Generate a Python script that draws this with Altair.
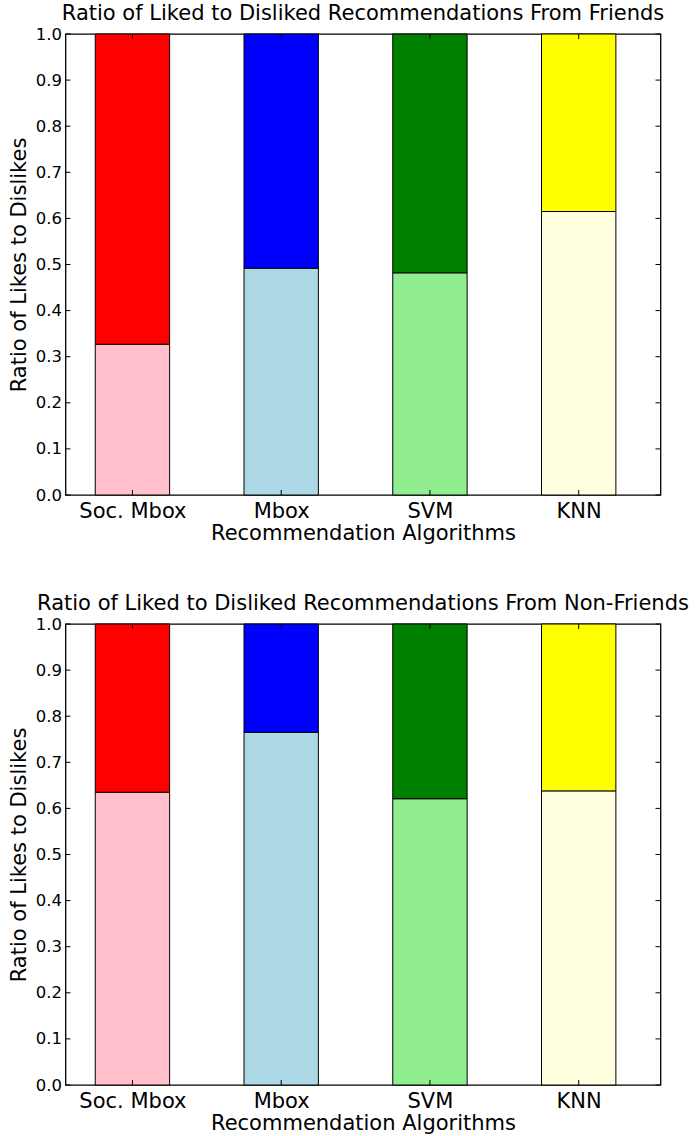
import json
import altair as alt
import pandas as pd

# Recommendation algorithms and their liked share (rest of each bar = disliked)
algorithms = ["Soc. Mbox", "Mbox", "SVM", "KNN"]
liked_friends = [0.327, 0.492, 0.482, 0.615]
liked_non_friends = [0.635, 0.765, 0.621, 0.638]

liked_colors = ["pink", "lightblue", "lightgreen", "lightyellow"]
disliked_colors = ["red", "blue", "green", "yellow"]

y_ticks = [round(i * 0.1, 1) for i in range(11)]
bar_width = 0.5
bar_offset = 0.2
x_ticks = [i + bar_offset + bar_width / 2 for i in range(len(algorithms))]

W, H = 595, 461
FONT = "DejaVu Sans"
BIG = 21

label_expr = "{}[round(datum.value - {})]".format(json.dumps(algorithms), bar_offset + bar_width / 2)


def panel(liked, title):
    rows = []
    for i, (name, v) in enumerate(zip(algorithms, liked)):
        left = i + bar_offset
        rows.append(dict(alg=name, part="liked", x=left, x2=left + bar_width,
                         y=0.0, y2=v, color=liked_colors[i]))
        rows.append(dict(alg=name, part="disliked", x=left, x2=left + bar_width,
                         y=v, y2=1.0, color=disliked_colors[i]))
    bars_df = pd.DataFrame(rows)

    xs = alt.Scale(domain=[0, 4], nice=False, zero=False)
    ys = alt.Scale(domain=[0, 1], nice=False)

    bars = alt.Chart(bars_df).mark_bar(stroke="black", strokeWidth=1).encode(
        x=alt.X("x:Q", scale=xs,
                axis=alt.Axis(values=x_ticks, labelExpr=label_expr, ticks=False,
                              domain=False, grid=False, labelFontSize=BIG,
                              labelFont=FONT, labelColor="black", labelPadding=5,
                              title="Recommendation Algorithms", titleFontSize=BIG,
                              titleFont=FONT, titleFontWeight="normal",
                              titleColor="black", titlePadding=1)),
        x2="x2:Q",
        y=alt.Y("y:Q", scale=ys,
                axis=alt.Axis(values=y_ticks, format=".1f", ticks=False, domain=False,
                              grid=False, labelFontSize=16.5, labelFont=FONT,
                              labelColor="black", labelPadding=4,
                              title="Ratio of Likes to Dislikes", titleFontSize=BIG,
                              titleFont=FONT, titleFontWeight="normal",
                              titleColor="black", titlePadding=6)),
        y2="y2:Q",
        color=alt.Color("color:N", scale=None),
    )

    yt_df = pd.DataFrame({"v": y_ticks})
    xt_df = pd.DataFrame({"v": x_ticks})
    tl = 5
    left_ticks = alt.Chart(yt_df).mark_rule(color="black", strokeWidth=1).encode(
        y=alt.Y("v:Q", scale=ys), x=alt.value(0), x2=alt.value(tl))
    right_ticks = alt.Chart(yt_df).mark_rule(color="black", strokeWidth=1).encode(
        y=alt.Y("v:Q", scale=ys), x=alt.value(W - tl), x2=alt.value(W))
    bottom_ticks = alt.Chart(xt_df).mark_rule(color="black", strokeWidth=1).encode(
        x=alt.X("v:Q", scale=xs), y=alt.value(H - tl), y2=alt.value(H))
    top_ticks = alt.Chart(xt_df).mark_rule(color="black", strokeWidth=1).encode(
        x=alt.X("v:Q", scale=xs), y=alt.value(0), y2=alt.value(tl))

    return alt.layer(bars, left_ticks, right_ticks, bottom_ticks, top_ticks).properties(
        width=W, height=H,
        title=alt.TitleParams(title, fontSize=BIG, font=FONT, fontWeight="normal",
                              color="black", offset=2),
    )


top = panel(liked_friends, "Ratio of Liked to Disliked Recommendations From Friends")
bottom = panel(liked_non_friends, "Ratio of Liked to Disliked Recommendations From Non-Friends")

chart = alt.vconcat(top, bottom, spacing=48).properties(
    padding={"left": 7.5, "top": 2, "right": 0, "bottom": 0},
    background="white",
).configure_view(stroke="black", strokeWidth=1.3)

chart.save("out.html", embed_options={"renderer": "svg", "actions": False})
